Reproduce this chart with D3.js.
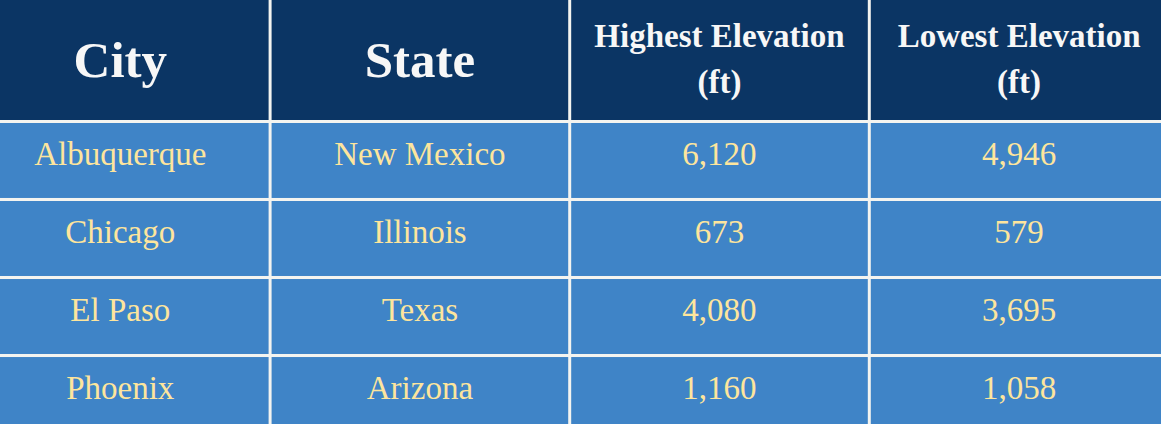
<!DOCTYPE html>
<html>
<head>
<meta charset="utf-8">
<script src="https://cdn.jsdelivr.net/npm/d3@7"></script>
<style>
  html, body { margin: 0; padding: 0; background: #f4f4f0; overflow: hidden; }
  svg { display: block; }
</style>
</head>
<body>
<svg id="chart" width="1161" height="424"></svg>
<script>
const headers = [["City"], ["State"], ["Highest Elevation", "(ft)"], ["Lowest Elevation", "(ft)"]];
const cities = ["Albuquerque", "Chicago", "El Paso", "Phoenix"];
const states = ["New Mexico", "Illinois", "Texas", "Arizona"];
const highest = [6120, 673, 4080, 1160];
const lowest = [4946, 579, 3695, 1058];

const W = 1161, H = 424;
const svg = d3.select("#chart");
svg.append("rect").attr("width", W).attr("height", H).attr("fill", "#f4f4f0");

const colIdx = d3.range(headers.length);
const x = d3.scaleBand().domain(colIdx).range([-28, 1167.4]).paddingInner(0.01).paddingOuter(0);

const rowIdx = d3.range(cities.length);
const y = d3.scaleBand().domain(rowIdx).range([123, 432]).paddingInner(0.039).paddingOuter(0);

const fmt = d3.format(",");
const rows = rowIdx.map(i => [cities[i], states[i], fmt(highest[i]), fmt(lowest[i])]);

// header
const hdr = svg.append("g");
hdr.selectAll("rect").data(colIdx).join("rect")
  .attr("x", d => x(d)).attr("y", 0)
  .attr("width", x.bandwidth()).attr("height", 120)
  .attr("fill", "#0b3564");

hdr.selectAll("text").data(colIdx).join("text")
  .attr("x", d => x(d) + x.bandwidth() / 2)
  .attr("text-anchor", "middle")
  .attr("font-family", "'Liberation Serif', 'Times New Roman', serif")
  .attr("font-weight", "bold")
  .attr("fill", "#f7f7f7")
  .each(function(d) {
    const lines = headers[d];
    const t = d3.select(this);
    if (lines.length === 1) {
      t.append("tspan").attr("x", x(d) + x.bandwidth() / 2).attr("y", 77)
        .attr("font-size", 51).text(lines[0]);
    } else {
      lines.forEach((l, k) => {
        t.append("tspan").attr("x", x(d) + x.bandwidth() / 2).attr("y", k === 0 ? 47 : 93)
          .attr("font-size", 33).text(l);
      });
    }
  });

// body
const body = svg.append("g");
const cells = [];
rows.forEach((r, i) => r.forEach((v, j) => cells.push({ i, j, v })));

body.selectAll("rect").data(cells).join("rect")
  .attr("x", d => x(d.j)).attr("y", d => y(d.i))
  .attr("width", x.bandwidth()).attr("height", y.bandwidth())
  .attr("fill", "#3f84c7");

body.selectAll("text").data(cells).join("text")
  .attr("x", d => x(d.j) + x.bandwidth() / 2)
  .attr("y", d => y(d.i) + 42)
  .attr("text-anchor", "middle")
  .attr("font-family", "'Liberation Serif', 'Times New Roman', serif")
  .attr("font-size", 33)
  .attr("fill", "#fde59d")
  .text(d => d.v);
</script>
</body>
</html>
